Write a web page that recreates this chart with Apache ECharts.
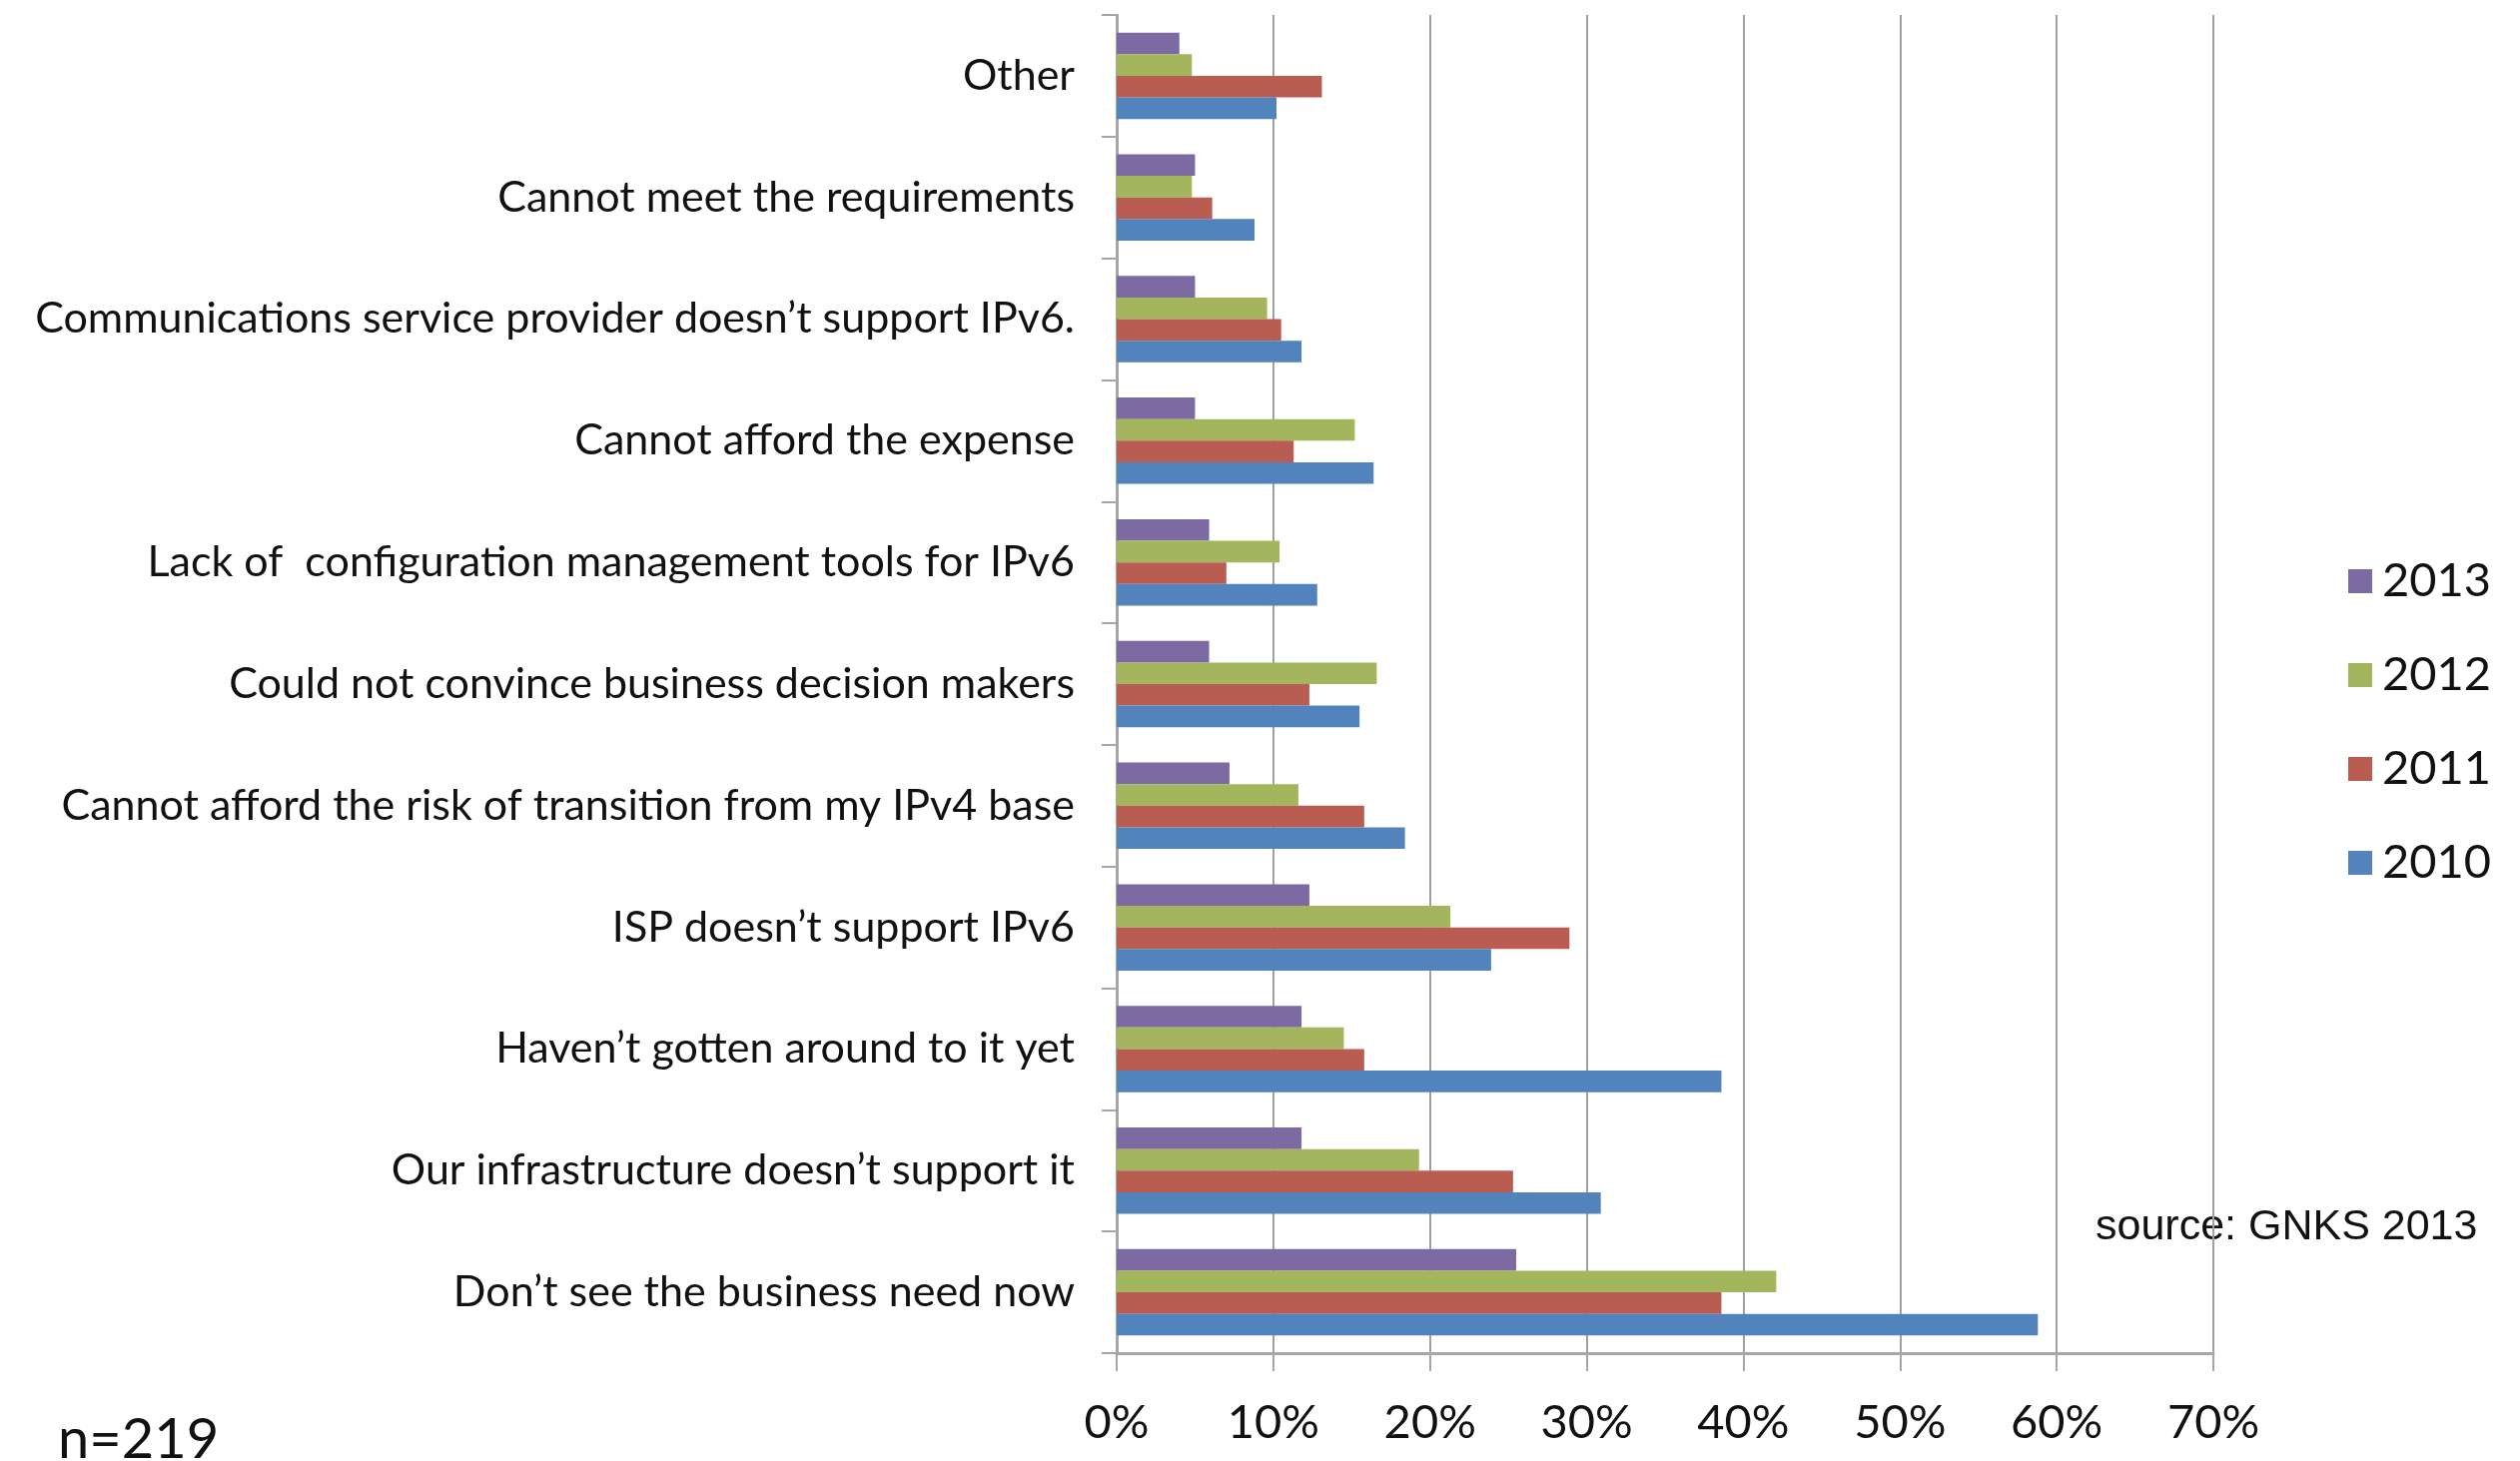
<!DOCTYPE html>
<html>
<head>
<meta charset="utf-8">
<script src="https://cdn.jsdelivr.net/npm/echarts@6/dist/echarts.min.js"></script>
<style>html,body{margin:0;padding:0;background:#fff;}#c{width:2523px;height:1463px;}</style>
</head>
<body>
<div id="c"></div>
<script>
// categories listed top to bottom as in the picture
const categories = [
  'Other',
  'Cannot meet the requirements',
  'Communications service provider doesn’t support IPv6.',
  'Cannot afford the expense',
  'Lack of  configuration management tools for IPv6',
  'Could not convince business decision makers',
  'Cannot afford the risk of transition from my IPv4 base',
  'ISP doesn’t support IPv6',
  'Haven’t gotten around to it yet',
  'Our infrastructure doesn’t support it',
  'Don’t see the business need now'
];
const years = ['2013', '2012', '2011', '2010'];
const v2013 = [4.0, 5.0, 5.0, 5.0, 5.9, 5.9, 7.2, 12.3, 11.8, 11.8, 25.5];
const v2012 = [4.8, 4.8, 9.6, 15.2, 10.4, 16.6, 11.6, 21.3, 14.5, 19.3, 42.1];
const v2011 = [13.1, 6.1, 10.5, 11.3, 7.0, 12.3, 15.8, 28.9, 15.8, 25.3, 38.6];
const v2010 = [10.2, 8.8, 11.8, 16.4, 12.8, 15.5, 18.4, 23.9, 38.6, 30.9, 58.8];
const xTicks = [0, 10, 20, 30, 40, 50, 60, 70];

const colors = {'2013': '#7D6AA2', '2012': '#A3B65D', '2011': '#B95D53', '2010': '#5283BC'};
const values = {'2013': v2013, '2012': v2012, '2011': v2011, '2010': v2010};

const chart = echarts.init(document.getElementById('c'));
const axisGray = '#A6A6A6';
chart.setOption({
  animation: false,
  backgroundColor: '#ffffff',
  grid: {left: 1118, right: 307, top: 15, bottom: 108, containLabel: false},
  xAxis: {
    type: 'value', min: xTicks[0], max: xTicks[xTicks.length - 1], interval: 10,
    axisLine: {show: true, lineStyle: {color: axisGray, width: 3}},
    axisTick: {show: true, length: 18, lineStyle: {color: axisGray, width: 2}},
    splitLine: {show: true, lineStyle: {color: '#A0A0A0', width: 2}},
    axisLabel: {formatter: '{value}%', fontFamily: 'Lato', fontSize: 47, color: '#111', margin: 46}
  },
  yAxis: {
    type: 'category', data: categories, inverse: true,
    axisLine: {show: true, lineStyle: {color: axisGray, width: 3}},
    axisTick: {show: true, length: 15, lineStyle: {color: axisGray, width: 2}},
    axisLabel: {fontFamily: 'Lato', fontSize: 43, color: '#111', margin: 42}
  },
  legend: {
    orient: 'vertical', left: 2346, top: 552,
    data: years, icon: 'rect', itemWidth: 24, itemHeight: 24, itemGap: 44,
    textStyle: {fontFamily: 'Lato', fontSize: 47, lineHeight: 50, color: '#111', padding: [0, 0, 0, 5]}
  },
  series: years.map(y => ({
    name: y, type: 'bar', data: values[y],
    itemStyle: {color: colors[y]},
    barGap: '0%', barCategoryGap: '29%'
  })),
  graphic: [
    {type: 'text', left: 58, top: 1414, style: {text: 'n=219', font: '56px Lato', fill: '#111'}},
    {type: 'text', left: 2098, top: 1208, style: {text: 'source: GNKS 2013', font: '43px "Liberation Sans"', fill: '#111'}}
  ]
});
</script>
</body>
</html>
